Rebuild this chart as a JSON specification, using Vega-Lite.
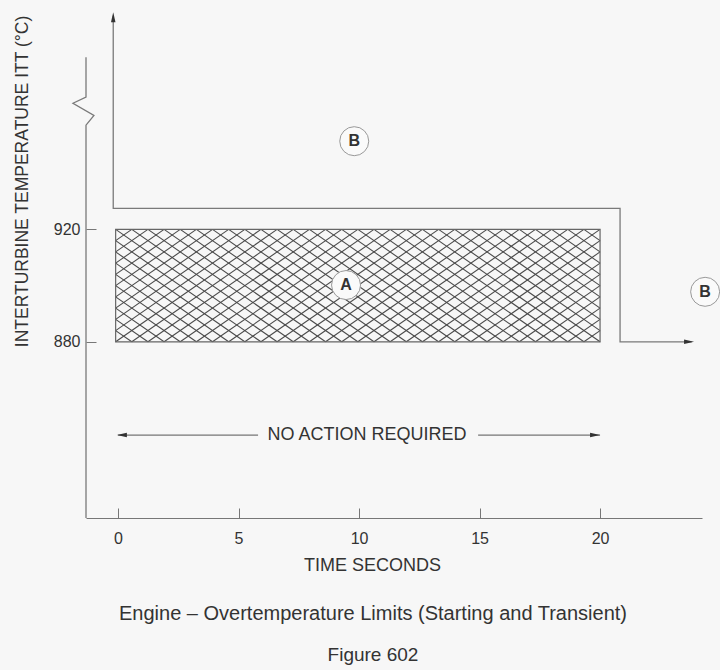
{
  "$schema": "https://vega.github.io/schema/vega-lite/v6.json",
  "width": 616,
  "height": 510,
  "autosize": {"type": "none"},
  "padding": {"left": 86, "top": 8, "right": 18, "bottom": 152},
  "background": "#f7f7f7",
  "config": {
    "view": {"stroke": null},
    "font": "Liberation Sans",
    "axis": {"domainColor": "#777", "tickColor": "#777", "labelColor": "#333", "titleColor": "#333", "labelFontSize": 16, "titleFontSize": 18, "titleFontWeight": "normal", "grid": false}
  },
  "title": {
    "text": "Engine – Overtemperature Limits (Starting and Transient)",
    "subtitle": "Figure 602",
    "orient": "bottom",
    "anchor": "middle",
    "dx": -21,
    "offset": 30,
    "fontSize": 20,
    "fontWeight": "normal",
    "color": "#333",
    "subtitleFontSize": 19,
    "subtitleColor": "#333",
    "subtitlePadding": 22
  },
  "datasets": {
    "hatch": [
      {"x":-0.1,"y":916,"x2":0.57,"y2":920},
      {"x":-0.1,"y":912,"x2":1.24,"y2":920},
      {"x":-0.1,"y":908,"x2":1.91,"y2":920},
      {"x":-0.1,"y":904,"x2":2.58,"y2":920},
      {"x":-0.1,"y":900,"x2":3.25,"y2":920},
      {"x":-0.1,"y":896,"x2":3.92,"y2":920},
      {"x":-0.1,"y":892,"x2":4.59,"y2":920},
      {"x":-0.1,"y":888,"x2":5.26,"y2":920},
      {"x":-0.1,"y":884,"x2":5.93,"y2":920},
      {"x":-0.1,"y":880,"x2":6.6,"y2":920},
      {"x":0.57,"y":880,"x2":7.27,"y2":920},
      {"x":1.24,"y":880,"x2":7.94,"y2":920},
      {"x":1.91,"y":880,"x2":8.61,"y2":920},
      {"x":2.58,"y":880,"x2":9.28,"y2":920},
      {"x":3.25,"y":880,"x2":9.95,"y2":920},
      {"x":3.92,"y":880,"x2":10.62,"y2":920},
      {"x":4.59,"y":880,"x2":11.29,"y2":920},
      {"x":5.26,"y":880,"x2":11.96,"y2":920},
      {"x":5.93,"y":880,"x2":12.63,"y2":920},
      {"x":6.6,"y":880,"x2":13.3,"y2":920},
      {"x":7.27,"y":880,"x2":13.97,"y2":920},
      {"x":7.94,"y":880,"x2":14.64,"y2":920},
      {"x":8.61,"y":880,"x2":15.31,"y2":920},
      {"x":9.28,"y":880,"x2":15.98,"y2":920},
      {"x":9.95,"y":880,"x2":16.65,"y2":920},
      {"x":10.62,"y":880,"x2":17.32,"y2":920},
      {"x":11.29,"y":880,"x2":17.99,"y2":920},
      {"x":11.96,"y":880,"x2":18.66,"y2":920},
      {"x":12.63,"y":880,"x2":19.33,"y2":920},
      {"x":13.3,"y":880,"x2":20,"y2":920},
      {"x":13.97,"y":880,"x2":20,"y2":916},
      {"x":14.64,"y":880,"x2":20,"y2":912},
      {"x":15.31,"y":880,"x2":20,"y2":908},
      {"x":15.98,"y":880,"x2":20,"y2":904},
      {"x":16.65,"y":880,"x2":20,"y2":900},
      {"x":17.32,"y":880,"x2":20,"y2":896},
      {"x":17.99,"y":880,"x2":20,"y2":892},
      {"x":18.66,"y":880,"x2":20,"y2":888},
      {"x":19.33,"y":880,"x2":20,"y2":884},
      {"x":-0.1,"y":884,"x2":0.57,"y2":880},
      {"x":-0.1,"y":888,"x2":1.24,"y2":880},
      {"x":-0.1,"y":892,"x2":1.91,"y2":880},
      {"x":-0.1,"y":896,"x2":2.58,"y2":880},
      {"x":-0.1,"y":900,"x2":3.25,"y2":880},
      {"x":-0.1,"y":904,"x2":3.92,"y2":880},
      {"x":-0.1,"y":908,"x2":4.59,"y2":880},
      {"x":-0.1,"y":912,"x2":5.26,"y2":880},
      {"x":-0.1,"y":916,"x2":5.93,"y2":880},
      {"x":-0.1,"y":920,"x2":6.6,"y2":880},
      {"x":0.57,"y":920,"x2":7.27,"y2":880},
      {"x":1.24,"y":920,"x2":7.94,"y2":880},
      {"x":1.91,"y":920,"x2":8.61,"y2":880},
      {"x":2.58,"y":920,"x2":9.28,"y2":880},
      {"x":3.25,"y":920,"x2":9.95,"y2":880},
      {"x":3.92,"y":920,"x2":10.62,"y2":880},
      {"x":4.59,"y":920,"x2":11.29,"y2":880},
      {"x":5.26,"y":920,"x2":11.96,"y2":880},
      {"x":5.93,"y":920,"x2":12.63,"y2":880},
      {"x":6.6,"y":920,"x2":13.3,"y2":880},
      {"x":7.27,"y":920,"x2":13.97,"y2":880},
      {"x":7.94,"y":920,"x2":14.64,"y2":880},
      {"x":8.61,"y":920,"x2":15.31,"y2":880},
      {"x":9.28,"y":920,"x2":15.98,"y2":880},
      {"x":9.95,"y":920,"x2":16.65,"y2":880},
      {"x":10.62,"y":920,"x2":17.32,"y2":880},
      {"x":11.29,"y":920,"x2":17.99,"y2":880},
      {"x":11.96,"y":920,"x2":18.66,"y2":880},
      {"x":12.63,"y":920,"x2":19.33,"y2":880},
      {"x":13.3,"y":920,"x2":20,"y2":880},
      {"x":13.97,"y":920,"x2":20,"y2":884},
      {"x":14.64,"y":920,"x2":20,"y2":888},
      {"x":15.31,"y":920,"x2":20,"y2":892},
      {"x":15.98,"y":920,"x2":20,"y2":896},
      {"x":16.65,"y":920,"x2":20,"y2":900},
      {"x":17.32,"y":920,"x2":20,"y2":904},
      {"x":17.99,"y":920,"x2":20,"y2":908},
      {"x":18.66,"y":920,"x2":20,"y2":912},
      {"x":19.33,"y":920,"x2":20,"y2":916}
    ],
    "zone": [{"x": -0.1, "x2": 20, "y": 880, "y2": 920}],
    "limit": [
      {"o": 1, "x": -0.2, "y": 996},
      {"o": 2, "x": -0.2, "y": 927.5},
      {"o": 3, "x": 20.83, "y": 927.5},
      {"o": 4, "x": 20.83, "y": 880},
      {"o": 5, "x": 23.8, "y": 880}
    ],
    "yaxisline": [
      {"o": 1, "x": -1.33, "y": 981.3},
      {"o": 2, "x": -1.33, "y": 967.1},
      {"o": 3, "x": -1.87, "y": 964.9},
      {"o": 4, "x": -1.0, "y": 960.6},
      {"o": 5, "x": -1.33, "y": 957.1},
      {"o": 6, "x": -1.33, "y": 817.3}
    ],
    "noaction": [
      {"x": 0, "y": 846.8, "x2": 5.81, "y2": 846.8},
      {"x": 14.94, "y": 846.8, "x2": 20, "y2": 846.8}
    ],
    "labels": [
      {"x": 9.8, "y": 951.4, "label": "B"},
      {"x": 9.46, "y": 900.2, "label": "A"},
      {"x": 24.36, "y": 897.8, "label": "B"}
    ]
  },
  "layer": [
    {
      "data": {"name": "hatch"},
      "mark": {"type": "rule", "stroke": "#4a4a4a", "strokeWidth": 1.1},
      "encoding": {
        "x": {"field": "x", "type": "quantitative", "scale": {"domain": [-1.33, 24.23], "nice": false, "zero": false},
              "axis": {"values": [0, 5, 10, 15, 20], "tickSize": -10, "title": "TIME SECONDS", "titleX": 286, "titlePadding": 10, "labelPadding": 22}},
        "y": {"field": "y", "type": "quantitative", "scale": {"domain": [817.3, 998.8], "nice": false, "zero": false},
              "axis": {"values": [880, 920], "tickSize": -10, "domain": false, "title": "INTERTURBINE  TEMPERATURE ITT (°C)", "titleFontSize": 17.5, "titleX": -64, "titleY": 173, "titleAngle": -90, "titleAlign": "center", "titleBaseline": "middle", "labelPadding": 16}},
        "x2": {"field": "x2"},
        "y2": {"field": "y2"}
      }
    },
    {
      "data": {"name": "zone"},
      "mark": {"type": "rect", "fill": "transparent", "stroke": "#666", "strokeWidth": 1.2},
      "encoding": {
        "x": {"field": "x", "type": "quantitative"},
        "x2": {"field": "x2"},
        "y": {"field": "y", "type": "quantitative"},
        "y2": {"field": "y2"}
      }
    },
    {
      "data": {"name": "limit"},
      "mark": {"type": "line", "stroke": "#7a7a7a", "strokeWidth": 1.3},
      "encoding": {
        "x": {"field": "x", "type": "quantitative"},
        "y": {"field": "y", "type": "quantitative"},
        "order": {"field": "o", "type": "quantitative"}
      }
    },
    {
      "data": {"name": "yaxisline"},
      "mark": {"type": "line", "stroke": "#7a7a7a", "strokeWidth": 1.3},
      "encoding": {
        "x": {"field": "x", "type": "quantitative"},
        "y": {"field": "y", "type": "quantitative"},
        "order": {"field": "o", "type": "quantitative"}
      }
    },
    {
      "data": {"name": "noaction"},
      "mark": {"type": "rule", "stroke": "#555", "strokeWidth": 1},
      "encoding": {
        "x": {"field": "x", "type": "quantitative"},
        "x2": {"field": "x2"},
        "y": {"field": "y", "type": "quantitative"},
        "y2": {"field": "y2"}
      }
    },
    {
      "data": {"values": [{"x": -0.2, "y": 997.3}]},
      "mark": {"type": "point", "shape": "M0,0L-0.45,2L0.45,2Z", "size": 100, "filled": true, "fill": "#333", "opacity": 1, "strokeWidth": 0},
      "encoding": {
        "x": {"field": "x", "type": "quantitative"},
        "y": {"field": "y", "type": "quantitative"}
      }
    },
    {
      "data": {"values": [{"x": 23.9, "y": 880}, {"x": 20, "y": 846.8}]},
      "mark": {"type": "point", "shape": "M0,0L-2,-0.45L-2,0.45Z", "size": 100, "filled": true, "fill": "#333", "opacity": 1, "strokeWidth": 0},
      "encoding": {
        "x": {"field": "x", "type": "quantitative"},
        "y": {"field": "y", "type": "quantitative"}
      }
    },
    {
      "data": {"values": [{"x": -0.05, "y": 846.8}]},
      "mark": {"type": "point", "shape": "M0,0L2,-0.45L2,0.45Z", "size": 100, "filled": true, "fill": "#333", "opacity": 1, "strokeWidth": 0},
      "encoding": {
        "x": {"field": "x", "type": "quantitative"},
        "y": {"field": "y", "type": "quantitative"}
      }
    },
    {
      "data": {"name": "labels"},
      "mark": {"type": "point", "shape": "circle", "size": 841, "filled": true, "fill": "#fafafa", "stroke": "#999", "strokeWidth": 1, "opacity": 1},
      "encoding": {
        "x": {"field": "x", "type": "quantitative"},
        "y": {"field": "y", "type": "quantitative"}
      }
    },
    {
      "data": {"name": "labels"},
      "mark": {"type": "text", "fontSize": 16, "fontWeight": "bold", "color": "#333", "align": "center", "baseline": "middle"},
      "encoding": {
        "x": {"field": "x", "type": "quantitative"},
        "y": {"field": "y", "type": "quantitative"},
        "text": {"field": "label"}
      }
    },
    {
      "data": {"values": [{"x": 10.33, "y": 846.8, "label": "NO ACTION REQUIRED"}]},
      "mark": {"type": "text", "fontSize": 18, "color": "#333", "align": "center", "baseline": "middle"},
      "encoding": {
        "x": {"field": "x", "type": "quantitative"},
        "y": {"field": "y", "type": "quantitative"},
        "text": {"field": "label"}
      }
    }
  ]
}
